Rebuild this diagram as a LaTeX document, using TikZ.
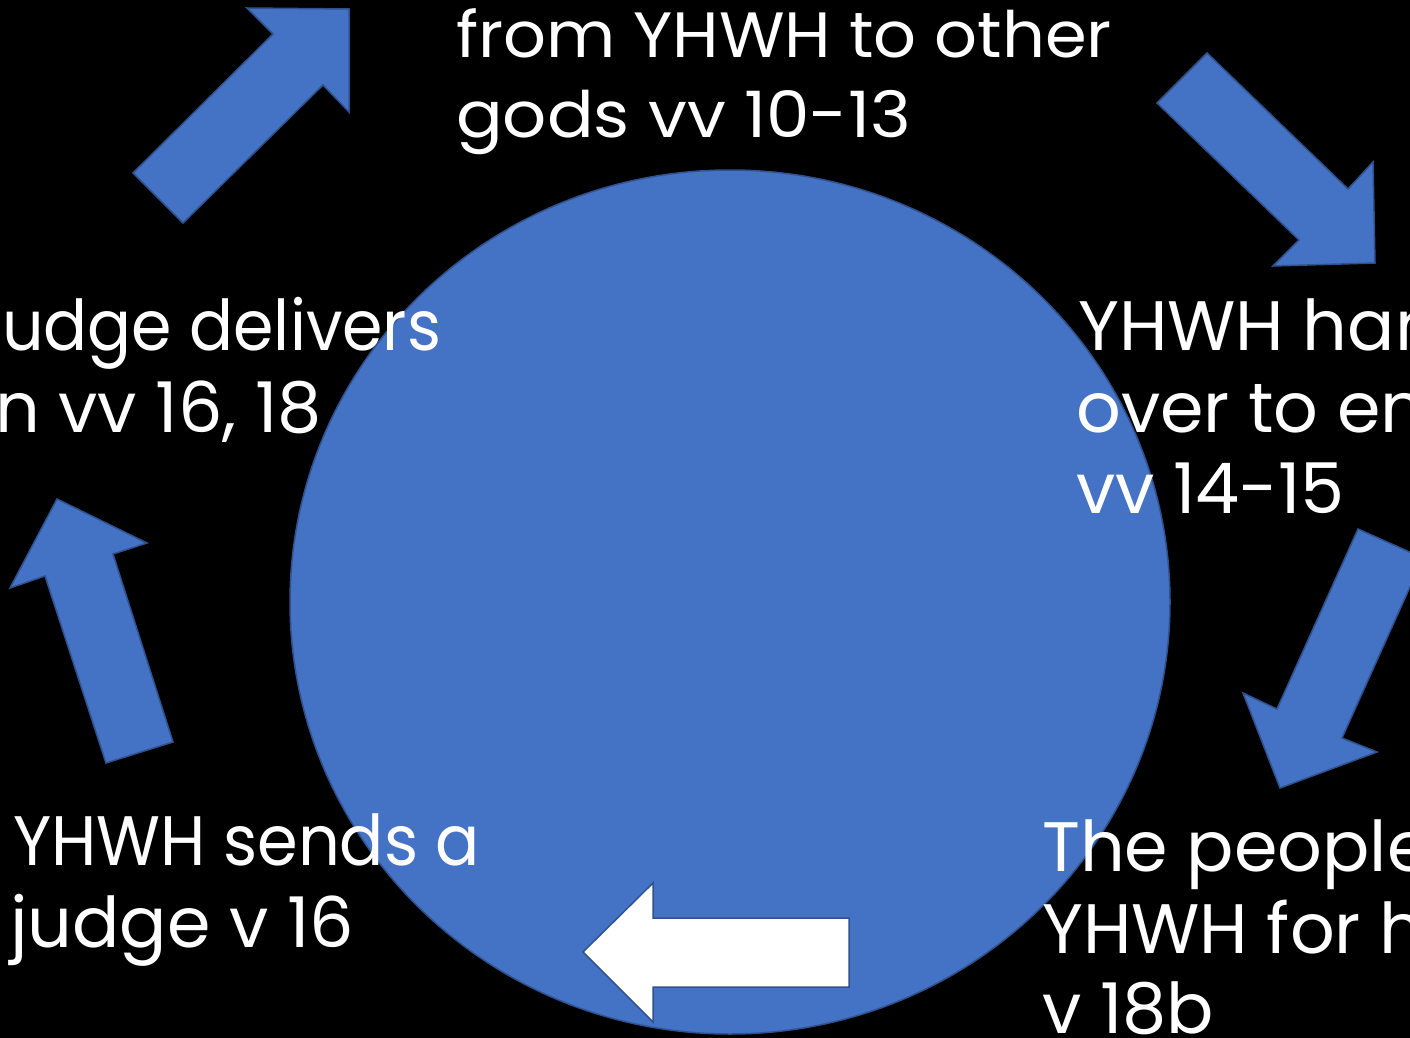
\documentclass[tikz,border=0pt]{standalone}
\usepackage{fontspec}
\usetikzlibrary{shapes.geometric}
\setmainfont{Poppins}
\definecolor{fillblue}{HTML}{4472C4}
\definecolor{edgeblue}{HTML}{2F528F}
\tikzset{
  blockarrow/.style={fill=fillblue, draw=edgeblue, line width=1.5pt, line join=miter},
  whitearrow/.style={fill=white, draw=edgeblue, line width=1.5pt, line join=miter},
  bigtext/.style={text=white, inner sep=0pt, anchor=base west, font=\fontsize{70}{82}\selectfont},
  toptext/.style={text=white, inner sep=0pt, anchor=base west, font=\fontsize{64}{79}\selectfont}
}
\begin{document}
\begin{tikzpicture}[x=1pt, y=-1pt]
\useasboundingbox (0,0) rectangle (1410,1038);
\clip (0,0) rectangle (1410,1038);
\fill[black] (0,0) rectangle (1410,1038);
% central disc
\node[ellipse, minimum width=880pt, minimum height=864pt, fill=fillblue, draw=edgeblue, line width=1.5pt, inner sep=0pt] (disc) at (730,602) {};
% block arrows
\draw[blockarrow] (133,173) -- (273,34) -- (247,8) -- (349,9) -- (349,112) -- (323,85) -- (183,223) -- cycle;
\draw[blockarrow] (1207,53) -- (1348,189) -- (1373,162) -- (1375,263) -- (1273,266) -- (1299,240) -- (1157,103) -- cycle;
\draw[blockarrow] (1358,529) -- (1423,558) -- (1342,738) -- (1377,752) -- (1280,788) -- (1243,693) -- (1277,709) -- cycle;
\draw[blockarrow] (106,763) -- (45,576) -- (10,588) -- (57,499) -- (147,543) -- (113,554) -- (173,742) -- cycle;
\draw[whitearrow] (583,952) -- (653,883) -- (653,918) -- (849,918) -- (849,987) -- (653,987) -- (653,1022) -- cycle;
% texts
\node[toptext] (t1) at (456,58) {\scalebox{1.05}[1]{from YHWH to other}};
\node[toptext] (t2) at (456,137) {\scalebox{1.08}[1]{gods vv 10-13}};
\node[bigtext] (l1) at (2,350) {\scalebox{0.93}[1]{udge delivers}};
\node[bigtext, anchor=base east] (l2) at (322,432) {n vv 16, 18};
\node[bigtext] (r1) at (1078,350) {YHWH han};
\node[bigtext] (r2) at (1076,432) {over to en};
\node[bigtext] (r3) at (1076,513) {vv 14-15};
\node[bigtext] (b1) at (13,865) {\scalebox{0.935}[1]{YHWH sends a}};
\node[bigtext] (b2) at (10,947) {judge v 16};
\node[bigtext] (s1) at (1042,871) {The people};
\node[bigtext] (s2) at (1042,953) {YHWH for he};
\node[bigtext] (s3) at (1042,1033) {v 18b};
\end{tikzpicture}
\end{document}
